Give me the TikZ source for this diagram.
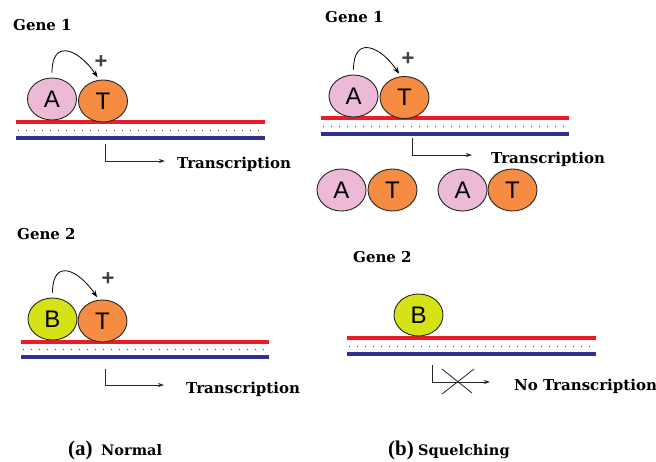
\documentclass[tikz,border=0pt]{standalone}
\usepackage{fontspec}
\setmainfont{DejaVu Serif}
\newfontfamily\sansf{Liberation Sans}
\newfontfamily\timesf{Liberation Serif}
\usetikzlibrary{shapes.geometric,arrows.meta}
\definecolor{pinkA}{RGB}{236,186,214}
\definecolor{orangeT}{RGB}{245,140,66}
\definecolor{yellowB}{RGB}{212,226,22}
\definecolor{dnared}{RGB}{237,28,36}
\definecolor{dnablue}{RGB}{46,49,146}
\tikzset{
  prot/.style={ellipse, draw=black!85, line width=0.9pt, minimum width=49pt, minimum height=42pt, inner sep=0pt, font=\sansf\fontsize{24}{24}\selectfont},
  protA/.style={prot, fill=pinkA},
  protT/.style={prot, fill=orangeT},
  protB/.style={prot, fill=yellowB},
  redstrand/.style={draw=dnared, line width=4.3pt},
  bluestrand/.style={draw=dnablue, line width=4.3pt},
  hbond/.style={draw=black!75, line width=0.8pt, dash pattern=on 0.8pt off 7.2pt},
  lbl/.style={anchor=base west, font=\bfseries\fontsize{15}{15}\selectfont, inner sep=0pt},
  captag/.style={anchor=base west, font=\timesf\bfseries\fontsize{21}{21}\selectfont, inner sep=0pt},
  capname/.style={anchor=base west, font=\bfseries\fontsize{14.5}{14.5}\selectfont, inner sep=0pt},
  act/.style={-{Stealth[length=7pt,width=5pt]}, line width=0.8pt},
  tss/.style={-{Stealth[length=6pt,width=4pt]}, line width=0.8pt, draw=black!85},
  plus/.style={font=\sansf\bfseries\fontsize{22}{22}\selectfont, text=black!75, inner sep=0pt},
}
\begin{document}
\begin{tikzpicture}[x=1pt,y=-1pt]
\useasboundingbox (0,0) rectangle (656,461);
% ---------- (a) Gene 1 ----------
\node[lbl] (aG1) at (13,30) {Gene 1};
\draw[redstrand] (16,122) -- (265,122);
\draw[hbond] (18,130) -- (265,130);
\draw[bluestrand] (16,138) -- (265,138);
\node[protA] (aA) at (52,99) {A};
\node[protT] (aT) at (103,101) {T};
\draw[act, shorten <=5pt, shorten >=3pt] (aA.north) .. controls +(0,-40) and +(-20,-30) .. (aT.100);
\node[plus] (aP1) at (101,62) {+};
\coordinate (aS1) at (105,144);
\coordinate (aE1) at (165,161);
\draw[tss] (aS1) |- (aE1);
\node[lbl] (aTr1) at (177,168) {Transcription};
% ---------- (a) Gene 2 ----------
\node[lbl] (aG2) at (17,239) {Gene 2};
\draw[redstrand] (21,342) -- (269,342);
\draw[hbond] (23,349) -- (269,349);
\draw[bluestrand] (21,357) -- (269,357);
\node[protB] (aB) at (52.5,319) {B};
\node[protT] (aT2) at (102.5,321) {T};
\draw[act, shorten <=5pt, shorten >=3pt] (aB.north) .. controls +(0,-40) and +(-20,-30) .. (aT2.100);
\node[plus] (aP2) at (108,279) {+};
\coordinate (aS2) at (105,369);
\coordinate (aE2) at (164,385);
\draw[tss] (aS2) |- (aE2);
\node[lbl] (aTr2) at (186,393) {Transcription};
% ---------- (b) Gene 1 ----------
\node[lbl] (bG1) at (325,22) {Gene 1};
\draw[redstrand] (321,118) -- (569,118);
\draw[hbond] (323,126) -- (569,126);
\draw[bluestrand] (321,134) -- (569,134);
\node[protA] (bA) at (353.5,96) {A};
\node[protT] (bT) at (404.5,97.5) {T};
\draw[act, shorten <=5pt, shorten >=3pt] (bA.north) .. controls +(0,-40) and +(-20,-30) .. (bT.100);
\node[plus] (bP1) at (408,59) {+};
\coordinate (bS1) at (412,138);
\coordinate (bE1) at (472,155);
\draw[tss] (bS1) |- (bE1);
\node[lbl] (bTr1) at (491,163) {Transcription};
\node[protA] (bA1) at (341.5,190) {A};
\node[protT] (bT1) at (392.5,190) {T};
\node[protA] (bA2) at (462.5,190) {A};
\node[protT] (bT2) at (512.5,190) {T};
% ---------- (b) Gene 2 ----------
\node[lbl] (bG2) at (353,262) {Gene 2};
\draw[redstrand] (347,338) -- (596,338);
\draw[hbond] (349,346) -- (596,346);
\draw[bluestrand] (347,354) -- (596,354);
\node[protB] (bB) at (418.5,315) {B};
\coordinate (bS2) at (432,365);
\coordinate (bE2) at (490,382);
\draw[tss] (bS2) |- (bE2);
\draw[line width=0.8pt, draw=black!85] (442,369) -- (472,393);
\draw[line width=0.8pt, draw=black!85] (474,369) -- (442,394);
\node[lbl] (bTr2) at (514,390) {No Transcription};
% ---------- captions ----------
\node[captag] (capa) at (68,455) {(a)};
\node[capname] (capan) at (101,455) {Normal};
\node[captag] (capb) at (388,455) {(b)};
\node[capname] (capbn) at (418,455) {Squelching};
\end{tikzpicture}
\end{document}
